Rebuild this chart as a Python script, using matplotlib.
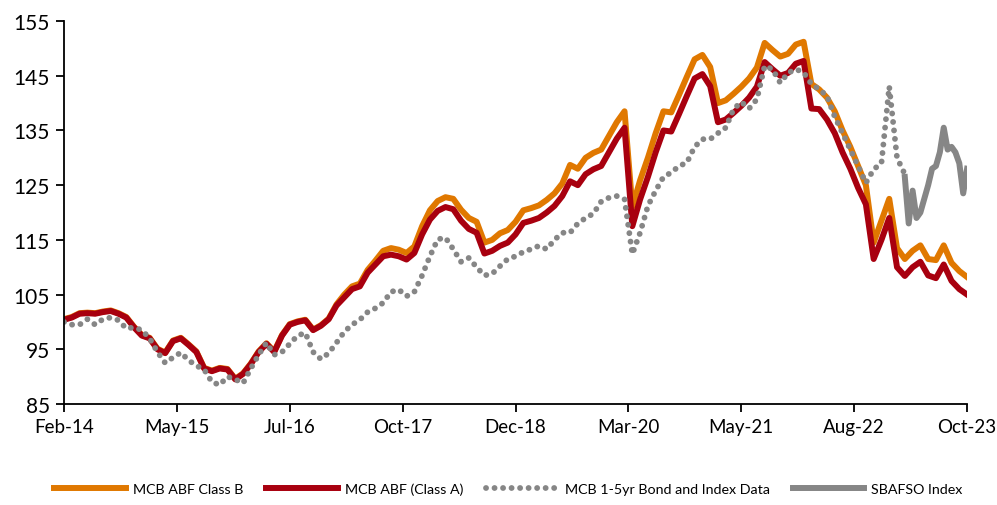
import numpy as np
import matplotlib
matplotlib.use("Agg")
import matplotlib.pyplot as plt

plt.rcParams['font.family'] = ['Lato', 'DejaVu Sans']

# months since Feb-14 (monthly points)
months = list(range(117))

class_b = [100.5, 100.9, 101.6, 101.7, 101.6, 101.9, 102.1, 101.6, 100.9, 99.1,
           97.6, 97.1, 95.1, 94.4, 96.6, 97.1, 95.9, 94.6, 91.6, 91.1,
           91.6, 91.4, 89.6, 90.6, 92.4, 94.6, 96.1, 94.6, 97.6, 99.6,
           100.1, 100.4, 98.6, 99.4, 100.6, 103.2, 105.0, 106.5, 107.0, 109.5,
           111.2, 113.0, 113.5, 113.2, 112.6, 113.8, 117.5, 120.4, 122.1, 122.8,
           122.5, 120.5, 119.0, 118.3, 114.5, 115.0, 116.2, 116.8, 118.3, 120.4,
           120.8, 121.3, 122.3, 123.5, 125.3, 128.7, 128.0, 130.0, 130.9, 131.5,
           134.0, 136.5, 138.5, 121.0, 125.9, 130.0, 134.5, 138.5, 138.3, 141.5,
           144.8, 148.0, 148.8, 146.6, 140.0, 140.5, 141.7, 143.0, 144.5, 146.5,
           151.0, 149.7, 148.5, 149.0, 150.7, 151.2, 143.5, 142.5, 141.0, 138.5,
           135.0, 132.0, 128.5, 125.0, 114.5, 118.5, 122.5, 113.5, 111.5, 113.0,
           114.0, 111.5, 111.3, 114.0, 110.8, 109.3, 108.2]

class_a = [100.4, 100.8, 101.5, 101.6, 101.5, 101.8, 102.0, 101.5, 100.8, 99.0,
           97.5, 97.0, 95.0, 94.3, 96.5, 97.0, 95.8, 94.5, 91.5, 91.0,
           91.5, 91.3, 89.5, 90.5, 92.3, 94.5, 96.0, 94.5, 97.5, 99.5,
           100.0, 100.3, 98.5, 99.3, 100.5, 103.0, 104.5, 106.0, 106.5, 109.0,
           110.5, 112.0, 112.3, 112.0, 111.4, 112.6, 116.0, 118.7, 120.3, 121.0,
           120.6, 118.5, 117.0, 116.3, 112.5, 113.0, 113.9, 114.5, 116.0, 118.1,
           118.5, 119.0, 120.0, 121.2, 123.0, 125.7, 125.0, 127.0, 127.9, 128.5,
           131.0, 133.5, 135.5, 117.5, 122.4, 126.5, 131.0, 135.0, 134.8, 138.0,
           141.3, 144.5, 145.3, 143.1, 136.5, 137.0, 138.2, 139.5, 141.0, 143.0,
           147.5, 146.2, 145.0, 145.5, 147.2, 147.7, 139.0, 138.9, 137.0, 134.5,
           131.0, 128.0, 124.5, 121.5, 111.5, 115.0, 119.0, 110.0, 108.4, 110.0,
           111.0, 108.5, 108.0, 110.5, 107.5, 106.0, 105.0]

bond_months = list(range(109))
bond_index = [100.0, 99.5, 99.5, 100.5, 99.5, 100.5, 100.8, 100.3, 98.8, 99.0,
              98.5, 97.0, 94.5, 92.5, 93.5, 94.4, 93.0, 92.0, 91.3, 89.0,
              88.5, 90.0, 89.5, 88.8, 91.5, 94.0, 96.2, 94.0, 94.5, 96.0,
              97.5, 98.0, 94.5, 93.2, 94.3, 96.2, 98.2, 99.5, 100.4, 101.8,
              102.5, 103.5, 105.5, 105.9, 104.7, 105.5, 108.5, 112.0, 115.1, 115.4,
              113.3, 111.0, 111.7, 110.0, 108.5, 108.8, 110.2, 111.5, 112.0, 112.8,
              113.3, 113.9, 113.3, 115.0, 116.3, 116.3, 118.0, 119.0, 119.8, 122.0,
              122.7, 123.0, 122.4, 112.4, 116.3, 121.2, 124.0, 126.5, 127.3, 128.5,
              129.1, 132.0, 133.4, 133.4, 134.5, 135.5, 138.9, 140.2, 139.0, 140.7,
              146.8, 146.2, 143.7, 145.5, 146.2, 145.6, 143.5, 142.5, 141.3, 137.5,
              134.5, 131.5, 128.5, 125.4, 127.9, 129.0, 143.0, 130.0, 127.0]

sbafso_months = [108, 108.5, 109, 109.5, 110, 110.5, 111, 111.5, 112, 112.5,
                 113, 113.5, 114, 114.5, 115, 115.5, 116]
sbafso = [126.5, 118.0, 124.0, 119.0, 120.0, 122.5, 125.0, 128.0, 128.5, 131.0,
          135.5, 131.5, 132.0, 131.0, 129.0, 123.5, 128.0]

tick_labels = ['Feb-14', 'May-15', 'Jul-16', 'Oct-17', 'Dec-18',
               'Mar-20', 'May-21', 'Aug-22', 'Oct-23']

fig = plt.figure(figsize=(9.97, 5.06), dpi=100)
ax = fig.add_axes([0.0642, 0.1996, 0.9058, 0.7569])

ax.plot(months, class_b, color='#E07800', lw=4.3, label='MCB ABF Class B', solid_joinstyle='round')
ax.plot(months, class_a, color='#A8000F', lw=4.3, label='MCB ABF (Class A)', solid_joinstyle='round')
ax.plot(bond_months, bond_index, color='#868686', lw=4.2, linestyle=(0, (0.01, 1.45)),
        dash_capstyle='round', label='MCB 1-5yr Bond and Index Data')
ax.plot(sbafso_months, sbafso, color='#868686', lw=4.3, label='SBAFSO Index', solid_joinstyle='round')

ax.set_xlim(0, 116)
ax.set_ylim(85, 155)
ax.set_xticks(np.linspace(0, 116, 9))
ax.set_xticklabels(tick_labels)
ax.set_yticks(np.arange(85, 156, 10))

for s in ['top', 'right']:
    ax.spines[s].set_visible(False)
for s in ['left', 'bottom']:
    ax.spines[s].set_linewidth(1.3)
ax.tick_params(axis='both', width=1.3, length=6, direction='out', pad=4)
ax.tick_params(axis='x', labelsize=13.5)
ax.tick_params(axis='y', labelsize=15)

fig.legend(loc='lower center', bbox_to_anchor=(0.51, -0.005), ncol=4, frameon=False,
           fontsize=10.3, handlelength=5.0, columnspacing=1.6, handletextpad=0.5)

fig.savefig('out.png', dpi=100)
